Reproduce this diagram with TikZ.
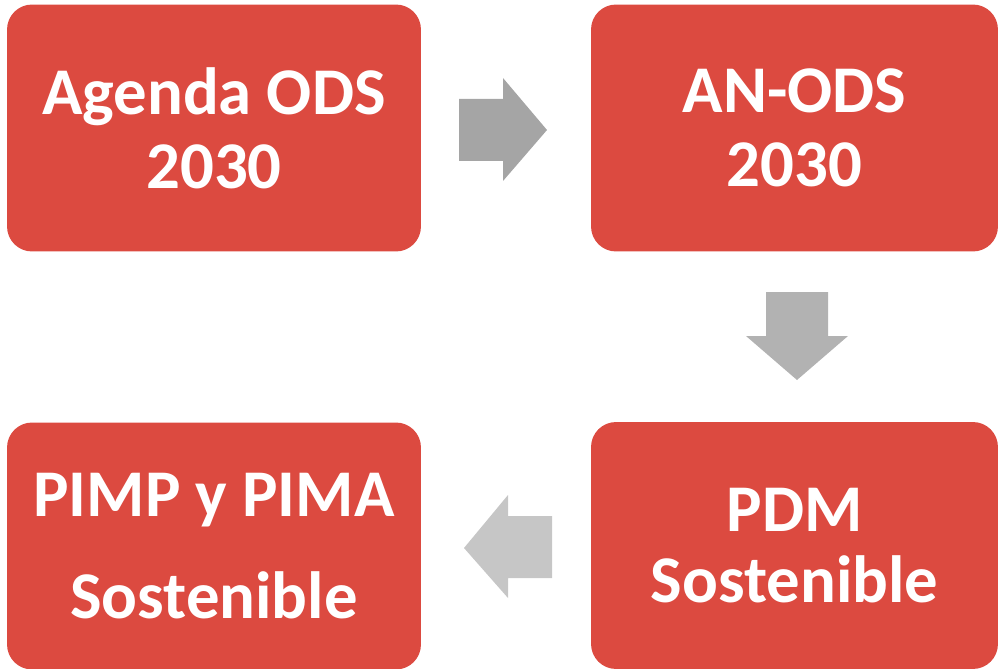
\documentclass[tikz,border=0pt]{standalone}
\usepackage{fontspec}
\setmainfont{Carlito}
\usetikzlibrary{positioning}

\definecolor{boxred}{RGB}{220,74,64}
\definecolor{arrowA}{RGB}{165,165,165}
\definecolor{arrowB}{RGB}{178,178,178}
\definecolor{arrowC}{RGB}{198,198,198}

\begin{document}
\begin{tikzpicture}[x=0.02cm, y=-0.02cm,
  stage/.style={fill=boxred, draw=none, rounded corners=0.5cm, text=white,
    align=center, minimum height=4.94cm, inner sep=0pt,
    font=\bfseries\fontsize{38}{42}\selectfont},
  flow/.style={draw=none}]

\useasboundingbox (0,0) rectangle (998,669);

\node[stage, minimum width=8.28cm] (agenda) at (214,128) {Agenda ODS\\2030}; %top left
\node[stage, minimum width=8.14cm] (anods) at (794.5,128) {AN-ODS\\2030}; %top right
\node[stage, minimum width=8.14cm, font=\bfseries\fontsize{38}{40}\selectfont] (pdm) at (794.5,545.5) {PDM\\Sostenible}; %bottom right
\node[stage, minimum width=8.28cm, font=\bfseries\fontsize{38}{58}\selectfont] (pimp) at (214,546) {PIMP y PIMA\\Sostenible}; %bottom left

% block arrows
\fill[arrowA] (459,99) -- (503,99) -- (503,78) -- (547,130) -- (503,181) -- (503,161) -- (459,161) -- cycle;
\fill[arrowB] (766,292) -- (828,292) -- (828,336) -- (848,336) -- (797,380) -- (746,336) -- (766,336) -- cycle;
\fill[arrowC] (552,516) -- (508,516) -- (508,495) -- (464,548) -- (508,598) -- (508,578) -- (552,578) -- cycle;

\end{tikzpicture}
\end{document}
